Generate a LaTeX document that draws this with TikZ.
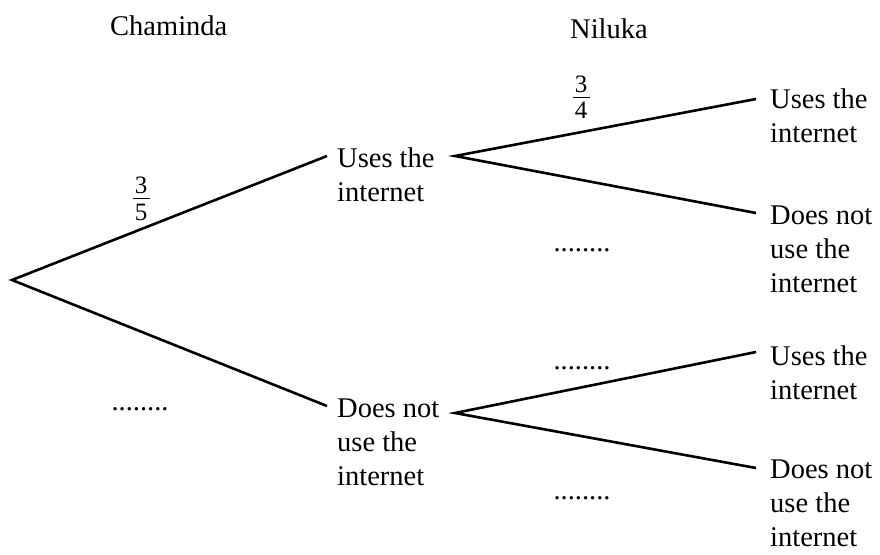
\documentclass[tikz,border=0pt]{standalone}
\usepackage{fontspec}
\setmainfont{Liberation Serif}
\begin{document}
\begin{tikzpicture}[x=1pt,y=-1pt,
  branch/.style={line width=2.6pt},
  lbl/.style={anchor=base west, inner sep=0pt, align=left, font=\fontsize{28.5}{34}\selectfont},
  dotted label/.style={anchor=base, inner sep=0pt, font=\fontsize{28.5}{34}\selectfont},
  digit/.style={anchor=center, inner sep=0pt, font=\fontsize{25}{28}\selectfont},
  fracbar/.style={line width=1pt}]
\useasboundingbox (0,0) rectangle (880,554);
% headings
\node[lbl] (chaminda) at (110,35) {Chaminda};
\node[lbl] (niluka) at (570,38) {Niluka};
% branch points and ends
\coordinate (root) at (12,280);
\coordinate (a1) at (327,156);
\coordinate (a2) at (327,406);
\coordinate (b0) at (455,156);
\coordinate (b1) at (756,99);
\coordinate (b2) at (756,213);
\coordinate (c0) at (455,413);
\coordinate (c1) at (756,352);
\coordinate (c2) at (756,468);
\draw[branch] (a1) -- (root) -- (a2);
\draw[branch] (b1) -- (b0) -- (b2);
\draw[branch] (c1) -- (c0) -- (c2);
% labels (base anchor = baseline of last line)
\node[lbl] (mu) at (337,201) {Uses the\\internet};
\node[lbl] (md) at (337,485) {Does not\\use the\\internet};
\node[lbl] (ruu) at (770,142) {Uses the\\internet};
\node[lbl] (rud) at (770,292) {Does not\\use the\\internet};
\node[lbl] (rdu) at (770,399) {Uses the\\internet};
\node[lbl] (rdd) at (770,546) {Does not\\use the\\internet};
% dots
\node[dotted label] (d1) at (140,410) {........};
\node[dotted label] (d2) at (582,251) {........};
\node[dotted label] (d3) at (582,369) {........};
\node[dotted label] (d4) at (582,499) {........};
% fractions
\node[digit] (n1) at (141,185) {3};
\node[digit] (e1) at (141,212) {5};
\draw[fracbar] (133,198) -- (150,198);
\node[digit] (n2) at (581,84) {3};
\node[digit] (e2) at (581,110) {4};
\draw[fracbar] (573,97) -- (590,97);
\end{tikzpicture}
\end{document}
